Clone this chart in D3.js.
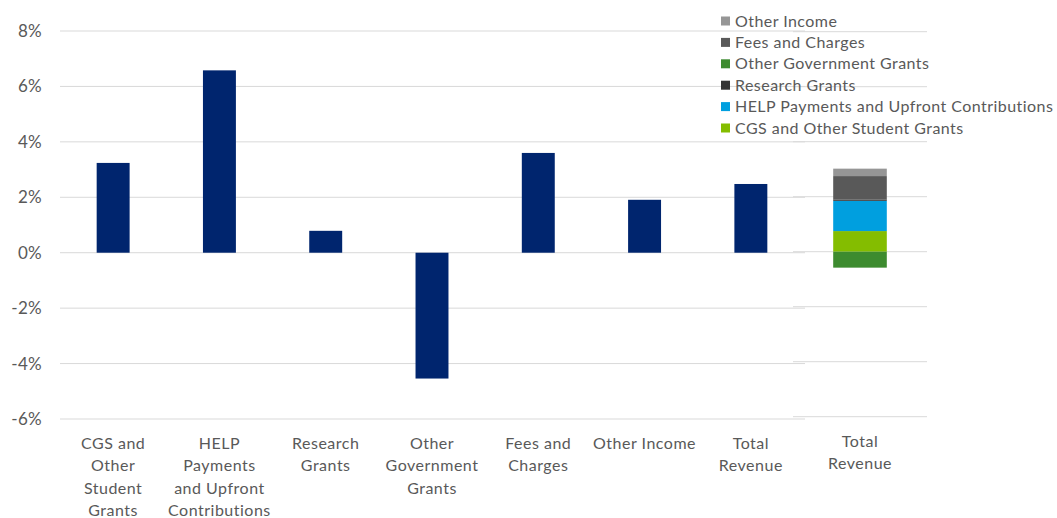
<!DOCTYPE html>
<html><head><meta charset="utf-8">
<script src="https://cdn.jsdelivr.net/npm/d3@7"></script>
<style>body{margin:0;background:#fff;} svg{display:block;font-family:Lato,"Open Sans",sans-serif;}</style>
</head><body><svg id="c" width="1057" height="518"></svg>
<script>
const categories = ["CGS and|Other|Student|Grants","HELP|Payments|and Upfront|Contributions","Research|Grants","Other|Government|Grants","Fees and|Charges","Other Income","Total|Revenue"];
const growth = [3.24, 6.58, 0.79, -4.54, 3.6, 1.91, 2.48];
const stackCategory = ["Total|Revenue"];
const stackSeries = ["CGS and Other Student Grants","HELP Payments and Upfront Contributions","Research Grants","Other Government Grants","Fees and Charges","Other Income"];
const stackValues = [0.75, 1.10, 0.05, -0.58, 0.85, 0.27];
const stackColors = ["#84BD00","#009FDF","#333333","#3D8B2F","#595959","#969696"];
const legendOrder = ["Other Income","Fees and Charges","Other Government Grants","Research Grants","HELP Payments and Upfront Contributions","CGS and Other Student Grants"];
const yTicks = [-6,-4,-2,0,2,4,6,8];

const svg = d3.select("#c");
const txt = "#595959", grid = "#d9d9d9";

// left panel
const y = d3.scaleLinear().domain([-6,8]).range([419,31]);
const x = d3.scaleBand().domain(categories).range([60,804]).paddingInner(0.69).paddingOuter(0.345);
const g = svg.append("g");
g.selectAll("line.g").data(yTicks).join("line")
  .attr("x1",60).attr("x2",805).attr("y1",d=>y(d)).attr("y2",d=>y(d))
  .attr("stroke",grid).attr("stroke-width",1);
g.selectAll("text.y").data(yTicks).join("text")
  .attr("x",42).attr("y",d=>y(d)).attr("dy","0.35em").attr("text-anchor","end")
  .attr("fill",txt).attr("font-size",17).attr("letter-spacing",0.3).text(d=>d+"%");
g.selectAll("rect").data(categories).join("rect")
  .attr("x",d=>x(d)).attr("width",x.bandwidth())
  .attr("y",(d,i)=>y(Math.max(0,growth[i]))).attr("height",(d,i)=>Math.abs(y(growth[i])-y(0)))
  .attr("fill","#00256E");
categories.forEach(c=>{
  const lines=c.split("|");
  const t=g.append("text").attr("text-anchor","middle").attr("fill",txt).attr("font-size",16).attr("letter-spacing",0.5);
  lines.forEach((l,i)=>t.append("tspan").attr("x",x(c)+x.bandwidth()/2).attr("y",449+i*22.3).text(l));
});

// right panel
const y2 = d3.scaleLinear().domain([-6,8]).range([416.7,31.7]);
const x2 = d3.scaleBand().domain(stackCategory).range([793,927]).paddingInner(0.6).paddingOuter(0.3);
const g2 = svg.append("g");
g2.selectAll("line").data(yTicks).join("line")
  .attr("x1",793).attr("x2",927).attr("y1",d=>y2(d)).attr("y2",d=>y2(d))
  .attr("stroke",grid).attr("stroke-width",1);
let pos=0, neg=0;
stackValues.forEach((v,i)=>{
  let a,b;
  if(v>=0){a=pos;b=pos+v;pos=b;}else{a=neg;b=neg+v;neg=b;}
  g2.append("rect").attr("x",x2(stackCategory[0])).attr("width",x2.bandwidth())
    .attr("y",y2(Math.max(a,b))).attr("height",Math.abs(y2(a)-y2(b)))
    .attr("fill",stackColors[i]);
});
{
  const t=g2.append("text").attr("text-anchor","middle").attr("fill",txt).attr("font-size",16).attr("letter-spacing",0.5);
  stackCategory[0].split("|").forEach((l,i)=>t.append("tspan").attr("x",x2(stackCategory[0])+x2.bandwidth()/2).attr("y",447+i*22.3).text(l));
}

// legend
const lg = svg.append("g");
legendOrder.forEach((n,i)=>{
  const col = stackColors[stackSeries.indexOf(n)];
  const yy = 21+i*21.4;
  lg.append("rect").attr("x",721).attr("y",yy-4.5).attr("width",9).attr("height",9).attr("fill",col);
  lg.append("text").attr("x",735).attr("y",yy).attr("dy","0.35em").attr("fill",txt).attr("font-size",16).attr("letter-spacing",0.45).text(n);
});
</script></body></html>
